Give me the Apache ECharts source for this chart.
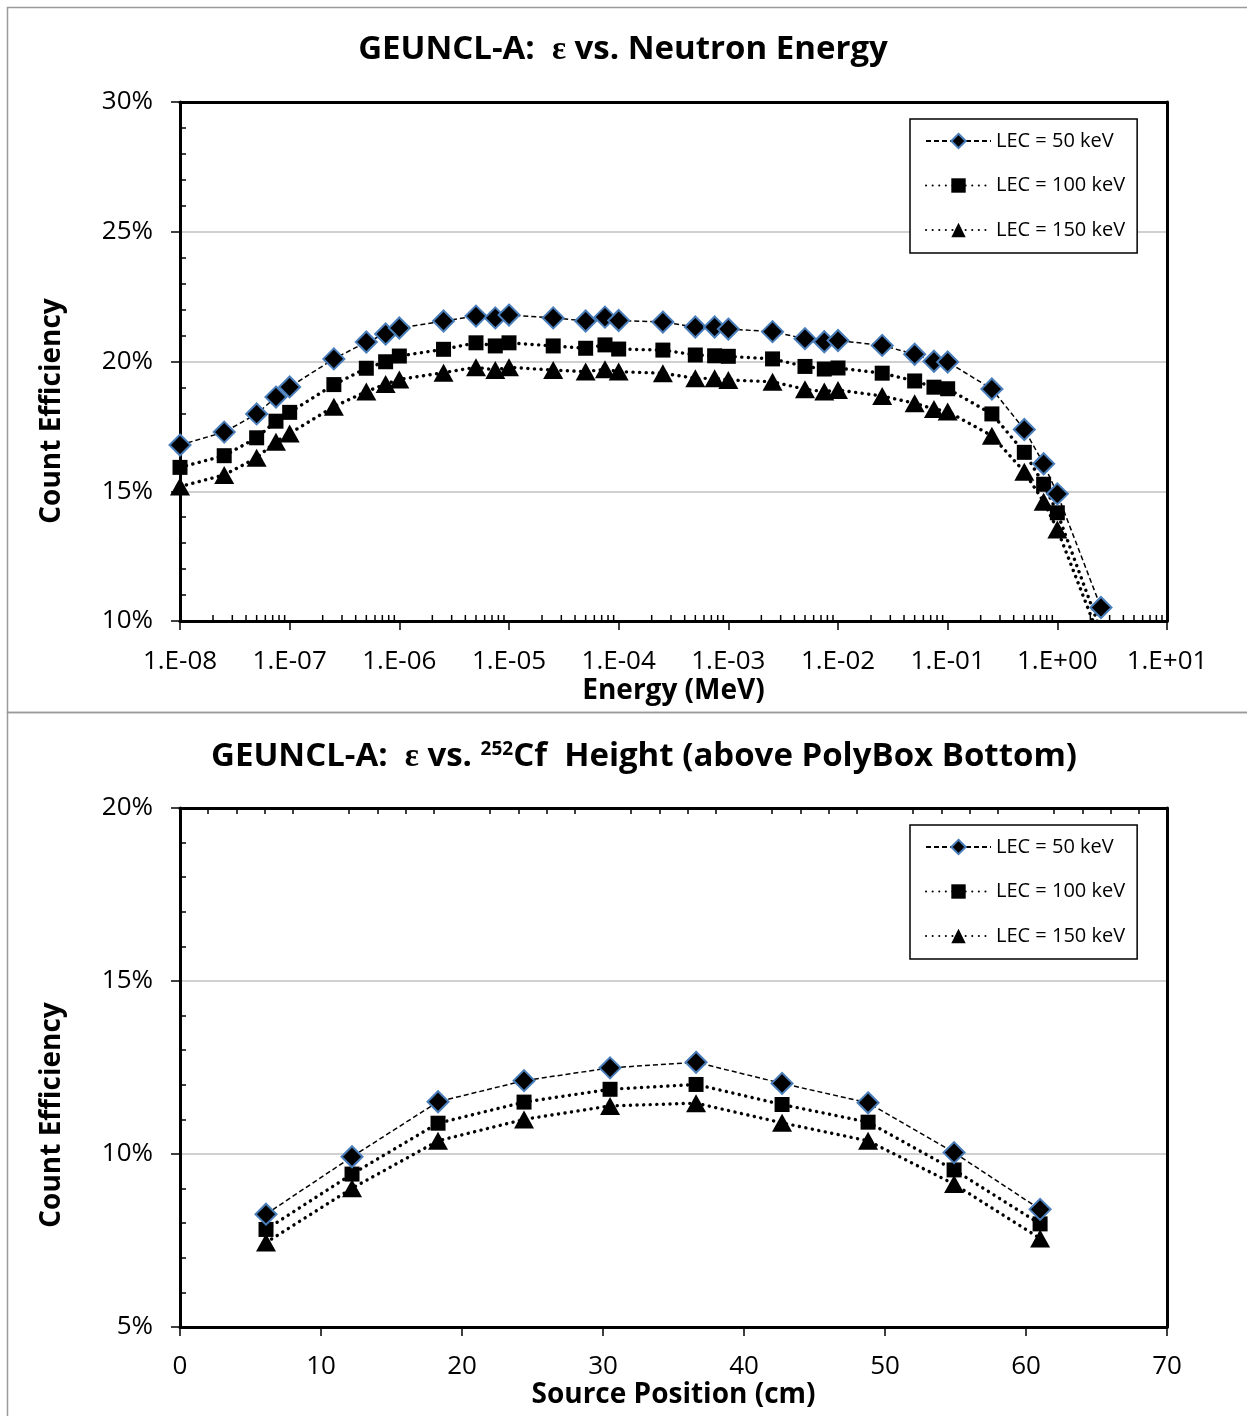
<!DOCTYPE html>
<html>
<head>
<meta charset="utf-8">
<script src="https://cdn.jsdelivr.net/npm/echarts@6/dist/echarts.min.js"></script>
<style>
  html, body { margin: 0; padding: 0; background: #fff; }
  #chart { width: 1247px; height: 1416px; }
</style>
</head>
<body>
<div id="chart"></div>
<script>
// top chart: efficiency vs neutron energy (MeV)
var energy = [1e-8, 2.53e-8, 5e-8, 7.5e-8, 1e-7, 2.53e-7, 5e-7, 7.5e-7, 1e-6, 2.53e-6, 5e-6, 7.5e-6,
    1e-5, 2.53e-5, 5e-5, 7.5e-5, 1e-4, 2.53e-4, 5e-4, 7.5e-4, 1e-3, 2.53e-3, 5e-3, 7.5e-3,
    1e-2, 2.53e-2, 5e-2, 7.5e-2, 1e-1, 2.53e-1, 5e-1, 7.5e-1, 1, 2.5];
var lec50E = [16.78, 17.28, 17.98, 18.63, 19.02, 20.10, 20.75, 21.06, 21.29, 21.56, 21.75, 21.68,
    21.79, 21.68, 21.56, 21.71, 21.58, 21.52, 21.33, 21.33, 21.25, 21.15, 20.88, 20.76,
    20.81, 20.62, 20.28, 20.01, 19.98, 18.94, 17.38, 16.06, 14.90, 10.52];
var lec100E = [15.92, 16.37, 17.06, 17.70, 18.04, 19.11, 19.74, 19.99, 20.21, 20.47, 20.72, 20.60,
    20.72, 20.60, 20.51, 20.64, 20.48, 20.44, 20.25, 20.22, 20.20, 20.10, 19.81, 19.71,
    19.75, 19.55, 19.25, 19.01, 18.95, 17.98, 16.50, 15.27, 14.17, 9.6];
var lec150E = [15.18, 15.63, 16.29, 16.91, 17.23, 18.26, 18.84, 19.13, 19.31, 19.57, 19.78, 19.67,
    19.78, 19.67, 19.61, 19.70, 19.61, 19.55, 19.35, 19.35, 19.29, 19.22, 18.93, 18.84,
    18.90, 18.67, 18.39, 18.17, 18.07, 17.14, 15.75, 14.60, 13.53, 9.2];

// bottom chart: efficiency vs source position (cm)
var position = [6.1, 12.2, 18.3, 24.4, 30.5, 36.6, 42.7, 48.8, 54.9, 61.0];
var lec50P = [8.26, 9.92, 11.51, 12.12, 12.49, 12.65, 12.04, 11.48, 10.04, 8.40];
var lec100P = [7.82, 9.42, 10.89, 11.50, 11.87, 12.01, 11.43, 10.92, 9.54, 7.98];
var lec150P = [7.44, 9.01, 10.38, 11.00, 11.39, 11.47, 10.90, 10.38, 9.13, 7.56];

var seriesNames = ['LEC = 50 keV', 'LEC = 100 keV', 'LEC = 150 keV'];

// log minor ticks 2..9 per decade
var minorMult = [2, 3, 4, 5, 6, 7, 8, 9];
var decades = [-8, -7, -6, -5, -4, -3, -2, -1, 0];

var FONT = '"Open Sans", "DejaVu Sans", sans-serif';

function pairs(xs, ys) {
    return xs.map(function (x, i) { return [x, ys[i]]; });
}

function expLabel(v) {
    var e = Math.round(Math.log10(v));
    var s = e < 0 ? '-' : '+';
    var a = Math.abs(e);
    return '1.E' + s + (a < 10 ? '0' + a : a);
}

var minorE = [];
decades.forEach(function (d) {
    minorMult.forEach(function (m) { minorE.push([m * Math.pow(10, d), 10]); });
});

var chartDom = document.getElementById('chart');
var chart = echarts.init(chartDom, null, { renderer: 'canvas' });

var dashLine = { color: '#000', width: 1.5, type: [5, 3] };
var dotLine = { color: '#000', width: 3.4, type: [0.1, 6.5], cap: 'round' };
var diamondStyle = { color: '#000', borderColor: '#4a7ebb', borderWidth: 2 };
var blackStyle = { color: '#000', borderColor: '#000', borderWidth: 0 };

function makeSeries(xi, yi, xs, a, b, c) {
    return [{
        name: seriesNames[0], type: 'line', xAxisIndex: xi, yAxisIndex: yi,
        data: pairs(xs, a), symbol: 'diamond', symbolSize: [21, 21],
        lineStyle: dashLine, itemStyle: diamondStyle, z: 5, animation: false
    }, {
        name: seriesNames[1], type: 'line', xAxisIndex: xi, yAxisIndex: yi,
        data: pairs(xs, b), symbol: 'rect', symbolSize: [15, 15],
        lineStyle: dotLine, itemStyle: blackStyle, z: 4, animation: false
    }, {
        name: seriesNames[2], type: 'line', xAxisIndex: xi, yAxisIndex: yi,
        data: pairs(xs, c), symbol: 'triangle', symbolSize: [20, 18],
        lineStyle: dotLine, itemStyle: blackStyle, z: 3, animation: false
    }];
}

var axisLabelStyle = { color: '#000', fontSize: 26, fontFamily: FONT };
var tickStyle = { color: '#000', width: 1.5 };
var frameLine = { show: true, onZero: false, lineStyle: { color: '#000', width: 3 } };

function yAxes(gridIndex, min, max) {
    return [{
        type: 'value', gridIndex: gridIndex, position: 'left', min: min, max: max, interval: 5,
        axisLine: frameLine,
        axisTick: { show: true, length: 9, lineStyle: tickStyle },
        axisLabel: Object.assign({ margin: 27, formatter: '{value}%' }, axisLabelStyle),
        splitLine: { show: true, showMinLine: false, showMaxLine: false, lineStyle: { color: '#c0c0c0', width: 1.5 } }
    }, {
        type: 'value', gridIndex: gridIndex, position: 'left', min: min, max: max, interval: 5,
        axisLine: { show: false },
        axisTick: { show: false, inside: true },
        minorTick: { show: true, splitNumber: 5, length: 6, lineStyle: tickStyle },
        axisLabel: { show: false },
        splitLine: { show: false }
    }, {
        type: 'value', gridIndex: gridIndex, position: 'right', min: min, max: max, interval: 5,
        axisLine: frameLine, axisTick: { show: false }, axisLabel: { show: false }, splitLine: { show: false }
    }];
}

var nameStyle = { color: '#000', fontSize: 28, fontWeight: 'bold', fontFamily: FONT };

var legendBase = {
    orient: 'vertical', left: 910, width: 233,
    padding: [12, 12, 13, 15], itemGap: 24.5, itemWidth: 65, itemHeight: 18,
    backgroundColor: '#fff', borderColor: '#000', borderWidth: 1.5, borderRadius: 0,
    textStyle: { color: '#000', fontSize: 20, fontFamily: FONT },
    data: seriesNames, selectedMode: false
};

var titleRich = {
    a: { fontSize: 33, fontWeight: 'bold', fontFamily: FONT, fill: '#000', color: '#000' },
    e: { fontSize: 33, fontWeight: 'bold', fontFamily: '"Liberation Serif", serif', color: '#000' },
    s: { fontSize: 19, fontWeight: 'bold', fontFamily: FONT, color: '#000', verticalAlign: 'top', lineHeight: 24 }
};

option = {
    backgroundColor: '#fff',
    animation: false,
    grid: [
        { left: 180, top: 102, width: 987, height: 519 },
        { left: 180, top: 808, width: 987, height: 519 }
    ],
    legend: [
        Object.assign({ top: 119 }, legendBase),
        Object.assign({ top: 825 }, legendBase)
    ],
    xAxis: [{
        type: 'log', logBase: 10, gridIndex: 0, min: 1e-8, max: 10, splitNumber: 9,
        axisLine: frameLine,
        axisTick: { show: true, length: 9, lineStyle: tickStyle },
        axisLabel: Object.assign({ margin: 28, formatter: expLabel }, axisLabelStyle),
        splitLine: { show: false },
        name: 'Energy (MeV)', nameLocation: 'middle', nameGap: 56, nameTextStyle: nameStyle
    }, {
        type: 'log', logBase: 10, gridIndex: 0, min: 1e-8, max: 10, splitNumber: 9, position: 'top',
        axisLine: frameLine, axisTick: { show: false }, axisLabel: { show: false }, splitLine: { show: false }
    }, {
        type: 'value', gridIndex: 1, min: 0, max: 70, interval: 10,
        axisLine: frameLine,
        axisTick: { show: true, length: 9, lineStyle: tickStyle },
        axisLabel: Object.assign({ margin: 27 }, axisLabelStyle),
        splitLine: { show: false },
        name: 'Source Position (cm)', nameLocation: 'middle', nameGap: 53, nameTextStyle: nameStyle
    }, {
        type: 'value', gridIndex: 1, min: 0, max: 70, interval: 10,
        axisLine: { show: false, onZero: false },
        axisTick: { show: false, inside: true },
        minorTick: { show: true, splitNumber: 5, length: 6, lineStyle: tickStyle },
        axisLabel: { show: false },
        splitLine: { show: false }
    }, {
        type: 'value', gridIndex: 1, min: 0, max: 70, interval: 10, position: 'top',
        axisLine: frameLine, axisTick: { show: false }, axisLabel: { show: false }, splitLine: { show: false }
    }],
    yAxis: yAxes(0, 10, 30).concat(yAxes(1, 5, 20)),
    series: makeSeries(0, 0, energy, lec50E, lec100E, lec150E)
        .concat(makeSeries(2, 3, position, lec50P, lec100P, lec150P))
        .concat([{
            type: 'custom', xAxisIndex: 0, yAxisIndex: 0, data: minorE, silent: true, z: 6,
            renderItem: function (params, api) {
                var p = api.coord([api.value(0), api.value(1)]);
                return {
                    type: 'line',
                    shape: { x1: p[0], y1: p[1], x2: p[0], y2: p[1] - 6 },
                    style: { stroke: '#000', lineWidth: 1.5 }
                };
            }
        }]),
    graphic: [
        { type: 'rect', z: -10, shape: { x: 7.5, y: 7.5, width: 1260, height: 705 }, style: { fill: 'none', stroke: '#9a9a9a', lineWidth: 1.5 } },
        { type: 'rect', z: -10, shape: { x: 7.5, y: 712.5, width: 1260, height: 720 }, style: { fill: 'none', stroke: '#9a9a9a', lineWidth: 1.5 } },
        {
            type: 'text', x: 623, y: 50,
            style: {
                text: '{a|GEUNCL-A:  }{e|ε}{a| vs. Neutron Energy}', rich: titleRich,
                align: 'center', verticalAlign: 'middle', fill: '#000'
            }
        },
        {
            type: 'text', x: 644, y: 757,
            style: {
                text: '{a|GEUNCL-A:  }{e|ε}{a| vs. }{s|252}{a|Cf  Height (above PolyBox Bottom)}', rich: titleRich,
                align: 'center', verticalAlign: 'middle', fill: '#000'
            }
        },
        {
            type: 'text', x: 52, y: 411, rotation: Math.PI / 2,
            style: { text: 'Count Efficiency', fill: '#000', font: 'bold 28px ' + FONT, align: 'center', verticalAlign: 'middle' }
        },
        {
            type: 'text', x: 52, y: 1115, rotation: Math.PI / 2,
            style: { text: 'Count Efficiency', fill: '#000', font: 'bold 28px ' + FONT, align: 'center', verticalAlign: 'middle' }
        }
    ]
};

option && chart.setOption(option);
</script>
</body>
</html>
